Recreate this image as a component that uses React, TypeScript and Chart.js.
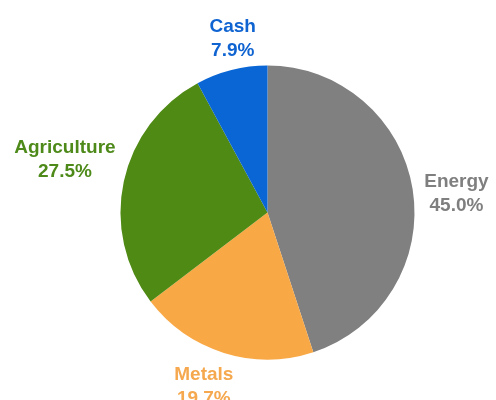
import React, { useEffect, useRef } from "react";
import { Chart, registerables } from "chart.js";

Chart.register(...registerables);

const categories = ["Energy", "Metals", "Agriculture", "Cash"];
const shares = [45.0, 19.7, 27.5, 7.9];
const sliceColors = ["#808080", "#F9A846", "#4F8A14", "#0A66D4"];
const labelColors = ["#7F7F7F", "#F5A84E", "#4E8A1A", "#0F64D2"];

const FONT = '"Liberation Sans", Arial, sans-serif';
const FONT_SIZE = 19;
const LINE_H = 24;

const outsideLabels = {
  id: "outsideLabels",
  afterDatasetsDraw(chart: any, _args: any, opts: any) {
    const ctx = chart.ctx;
    const meta = chart.getDatasetMeta(0);
    const gap = opts.gap ?? 9;
    const shift = ((opts.angleShift ?? 0) * Math.PI) / 180;
    ctx.save();
    ctx.font = `bold ${FONT_SIZE}px ${FONT}`;
    ctx.textAlign = "center";
    ctx.textBaseline = "alphabetic";
    const cap = FONT_SIZE * 0.716;
    meta.data.forEach((arc: any, i: number) => {
      const p = arc.getProps(["x", "y", "startAngle", "endAngle", "outerRadius"], true);
      const mid = (p.startAngle + p.endAngle) / 2 + shift;
      const dx = Math.cos(mid);
      const dy = Math.sin(mid);
      const lines = [categories[i], shares[i].toFixed(1) + "%"];
      const w = Math.max(...lines.map((l) => ctx.measureText(l).width));
      const h = cap + LINE_H;
      const ext = Math.abs(dx) * (w / 2) + Math.abs(dy) * (h / 2);
      const d = p.outerRadius + gap + ext;
      const cx = p.x + dx * d;
      const cy = p.y + dy * d;
      ctx.fillStyle = labelColors[i];
      const b1 = cy - h / 2 + cap;
      ctx.fillText(lines[0], cx, b1);
      ctx.fillText(lines[1], cx, b1 + LINE_H);
    });
    ctx.restore();
  },
};

export default function App() {
  const ref = useRef<HTMLCanvasElement | null>(null);
  useEffect(() => {
    if (!ref.current) return;
    const chart = new Chart(ref.current, {
      type: "pie",
      data: {
        labels: categories,
        datasets: [
          {
            data: shares,
            backgroundColor: sliceColors,
            borderWidth: 0,
          },
        ],
      },
      options: {
        responsive: false,
        animation: false,
        layout: { padding: { left: 120.5, right: 81.5, top: 65.5, bottom: 40.5 } },
        plugins: {
          legend: { display: false },
          tooltip: { enabled: false },
          outsideLabels: { gap: 9, angleShift: 3 },
        } as any,
      },
      plugins: [outsideLabels],
    });
    return () => chart.destroy();
  }, []);
  return (
    <div style={{ position: "absolute", left: 0, top: 0, width: 496, height: 400, background: "#fff" }}>
      <canvas ref={ref} width={496} height={400} />
    </div>
  );
}
